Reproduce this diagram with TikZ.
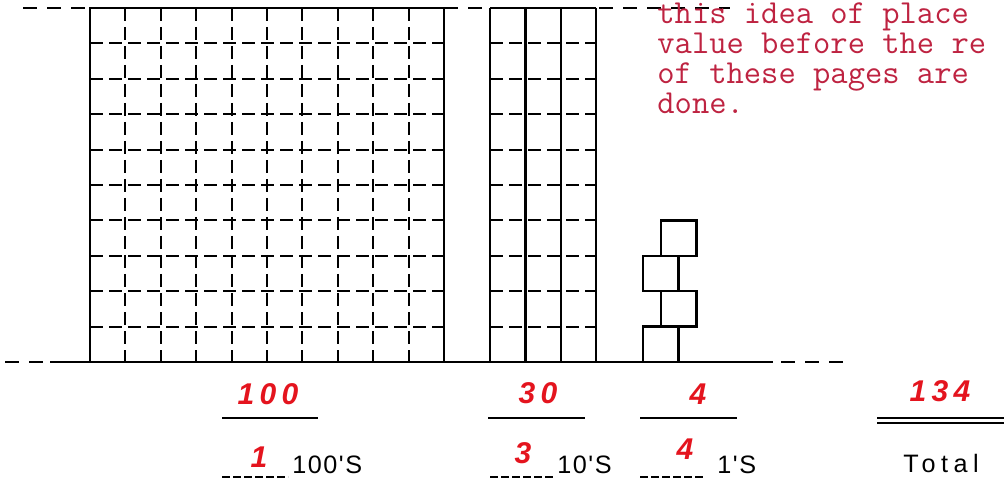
\documentclass[tikz,border=0pt]{standalone}
\usepackage{fontspec}
\newfontfamily\placefont{Liberation Sans}[LetterSpace=6]
\newfontfamily\penfont{Liberation Sans}[LetterSpace=18]
\usetikzlibrary{positioning}
\definecolor{typered}{RGB}{190,35,65}
\definecolor{penred}{RGB}{228,20,30}

\begin{document}
\begin{tikzpicture}[x=0.5pt, y=-0.5pt,
    % Define the style for the block outlines
    edge/.style={
        draw,
        line width=1.2pt
    },
    % Define the style for the lines inside the blocks
    cellline/.style={
        draw,
        line width=1pt,
        dash pattern=on 6.5pt off 3pt
    },
    % Define the style for the dashed guide lines
    guide/.style={
        draw,
        line width=1pt,
        dash pattern=on 7pt off 5pt
    },
    % Define the style for the typed note
    typed/.style={
        text=typered,
        font=\ttfamily\fontsize{16.8}{15}\selectfont,
        align=left,
        inner sep=0pt,
        anchor=north west
    },
    % Define the style for the handwritten digits
    pen/.style={
        text=penred,
        font=\penfont\bfseries\itshape\fontsize{15}{15}\selectfont,
        inner sep=0pt
    },
    % Define the style for the printed place names
    placename/.style={
        font=\placefont\fontsize{12.6}{12.6}\selectfont,
        inner sep=0pt,
        anchor=base west
    },
    % Define the style for the blanks and answer lines
    blank/.style={
        draw,
        line width=0.8pt,
        dash pattern=on 4pt off 1.5pt
    },
    answer/.style={
        draw,
        line width=1pt
    }
]

    \useasboundingbox (0,0) rectangle (1004,480);

    % Draw the hundreds square
    \foreach \i in {1,...,9} {
        \path [cellline] (90+\i*35.4,8) -- (90+\i*35.4,362);
        \path [cellline] (90,8+\i*35.4) -- (444,8+\i*35.4);
    }
    \path [edge] (90,8) rectangle (444,362);

    % Draw the tens rods
    \foreach \i in {1,...,9}
        \path [cellline] (490,8+\i*35.4) -- (596,8+\i*35.4);
    \foreach \x in {490,525.3,560.7,596}
        \path [edge] (\x,8) -- (\x,362);
    \path [edge] (490,8) -- (596,8);

    % Draw the ones
    \foreach \x/\y in {643/326.6, 661/291.2, 643/255.8, 661/220.4}
        \path [edge] (\x,\y) rectangle +(35.4,35.4);

    % Draw the guide lines
    \path [guide] (23,8) -- (90,8);
    \path [guide] (444,8) -- (490,8);
    \path [guide] (599,8) -- (730,8);
    \path [guide] (5,362) -- (50,362);
    \path [edge] (50,362) -- (773,362);
    \path [guide] (781,362) -- (843,362);

    % Place the typed note
    \node [typed] (note) at (657,2.5) {this idea of place\\value before the re\\of these pages are\\done.};

    % Place the sums
    \node [pen] (hundreds) at (268,394) {100};
    \node [pen] (tens) at (538,393) {30};
    \node [pen] (ones) at (698,394) {4};
    \node [pen] (total) at (940,391) {134};
    \path [answer] (222,418) -- (318,418);
    \path [answer] (488,418) -- (585,418);
    \path [answer] (640,418) -- (737,418);
    \path [answer] (877,418) -- (1004,418);
    \path [answer] (877,423) -- (1004,423);

    % Place the counts
    \path [blank] (222,477) -- (288,477);
    \path [blank] (490,477) -- (555,477);
    \path [blank] (640,477) -- (705,477);
    \node [pen] (nhundreds) at (259,457) {1};
    \node [pen] (ntens) at (523,453) {3};
    \node [pen] (nones) at (685,449) {4};
    \node [placename] (lhundreds) at (292,473) {100'S};
    \node [placename] (ltens) at (557,473) {10'S};
    \node [placename] (lones) at (717,473) {1'S};
    \node [placename, font=\placefont\addfontfeature{LetterSpace=22}\fontsize{12.6}{12.6}\selectfont] (ltotal) at (903,472) {Total};

\end{tikzpicture}
\end{document}
